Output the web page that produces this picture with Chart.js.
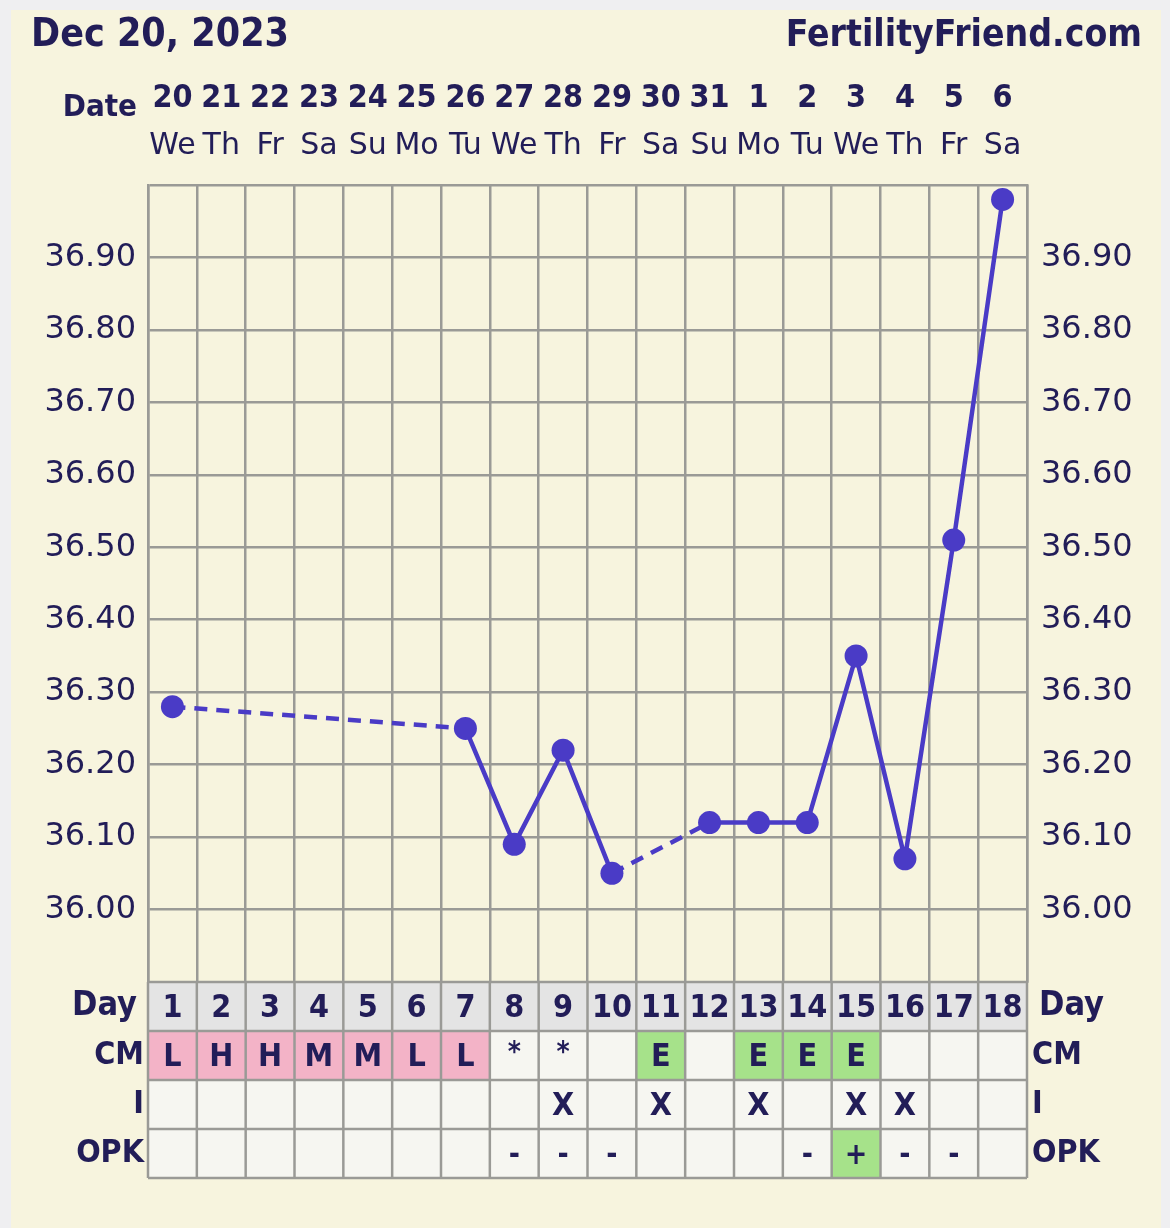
<!DOCTYPE html>
<html>
<head>
<meta charset="utf-8">
<script src="https://cdn.jsdelivr.net/npm/chart.js@4.4.0/dist/chart.umd.min.js"></script>
<style>
  html, body { margin: 0; padding: 0; background: #efeff1; }
  #wrap { width: 1170px; height: 1228px; position: relative; }
</style>
</head>
<body>
<div id="wrap"><canvas id="bbt"></canvas></div>
<script>
// chart data
const cycleDays = ['1','2','3','4','5','6','7','8','9','10','11','12','13','14','15','16','17','18'];
const dates = ['20','21','22','23','24','25','26','27','28','29','30','31','1','2','3','4','5','6'];
const weekdays = ['We','Th','Fr','Sa','Su','Mo','Tu','We','Th','Fr','Sa','Su','Mo','Tu','We','Th','Fr','Sa'];
const temps = [36.28, null, null, null, null, null, 36.25, 36.09, 36.22, 36.05, null, 36.12, 36.12, 36.12, 36.35, 36.07, 36.51, 36.98];
const cmRow = ['L','H','H','M','M','L','L','*','*','','E','','E','E','E','','',''];
const iRow = ['','','','','','','','','X','','X','','X','','X','X','',''];
const opkRow = ['','','','','','','','-','-','-','','','','-','+','-','-',''];
const tableRows = ['Day', 'CM', 'I', 'OPK'];

const INK = '#221d58';
const GRID = '#9a9a96';
const LINE = '#4a3bc6';
const COND = '"DejaVu Sans Condensed", "DejaVu Sans", sans-serif';
const SANS = '"DejaVu Sans", Verdana, sans-serif';

// background + header text
const pagePlugin = {
    id: 'page',
    beforeDraw(chart) {
        const ctx = chart.ctx;
        ctx.save();
        ctx.fillStyle = '#efeff1';
        ctx.fillRect(0, 0, chart.width, chart.height);
        ctx.fillStyle = '#f7f4de';
        ctx.fillRect(11, 10, 1150, chart.height - 10);
        ctx.fillStyle = INK;
        ctx.textBaseline = 'middle';
        ctx.textAlign = 'left';
        ctx.font = 'bold 39px ' + COND;
        ctx.fillText('Dec 20, 2023', 31, 36);
        ctx.textAlign = 'right';
        ctx.font = 'bold 37px ' + COND;
        ctx.fillText('FertilityFriend.com', 1142, 36);
        ctx.font = 'bold 31px ' + COND;
        ctx.fillText('Date', 137, 108);
        ctx.restore();
    }
};

// table of cycle day / CM / I / OPK under the chart
const tablePlugin = {
    id: 'table',
    afterDraw(chart) {
        const ctx = chart.ctx;
        const x = chart.scales.x;
        const area = chart.chartArea;
        const colW = x.getPixelForValue(1) - x.getPixelForValue(0);
        const rowH = 49;
        const top = area.bottom;
        const rows = [cycleDays, cmRow, iRow, opkRow];
        ctx.save();
        rows.forEach((vals, r) => {
            const y0 = top + r * rowH;
            vals.forEach((v, i) => {
                const x0 = x.getPixelForValue(i) - colW / 2;
                let bg = '#f6f6f1';
                if (r === 0) bg = '#e4e4e4';
                else if (r === 1 && v && 'LHM'.includes(v)) bg = '#f3b3c7';
                else if (r === 1 && v === 'E') bg = '#a6e28a';
                else if (r === 3 && v === '+') bg = '#a6e28a';
                ctx.fillStyle = bg;
                ctx.fillRect(x0, y0, colW, rowH);
                if (!v) return;
                ctx.fillStyle = INK;
                ctx.textAlign = 'center';
                ctx.textBaseline = 'middle';
                let fs = 32, dy = 2;
                if (v === '*') { fs = 28; dy = -2; }
                if (v === '-' || v === '+') { fs = 30; dy = 3; }
                ctx.font = 'bold ' + fs + 'px ' + COND;
                ctx.fillText(v, x.getPixelForValue(i), y0 + rowH / 2 + dy);
            });
        });
        // cell borders
        ctx.strokeStyle = GRID;
        ctx.lineWidth = 2.5;
        for (let r = 0; r <= rows.length; r++) {
            ctx.beginPath();
            ctx.moveTo(area.left, top + r * rowH);
            ctx.lineTo(area.right, top + r * rowH);
            ctx.stroke();
        }
        for (let i = 0; i <= cycleDays.length; i++) {
            const xx = area.left + i * colW;
            ctx.beginPath();
            ctx.moveTo(xx, top);
            ctx.lineTo(xx, top + rows.length * rowH);
            ctx.stroke();
        }
        // row labels both sides
        ctx.fillStyle = INK;
        ctx.textBaseline = 'middle';
        tableRows.forEach((lab, r) => {
            const yc = top + r * rowH + rowH / 2;
            ctx.font = (r === 0 ? 'bold 34px ' : 'bold 32px ') + COND;
            ctx.textAlign = 'right';
            ctx.fillText(lab, area.left - (r === 0 ? 11 : 4), yc);
            ctx.textAlign = 'left';
            ctx.fillText(lab, area.right + (r === 0 ? 12 : 5), yc);
        });
        ctx.restore();
    }
};

const tempTick = (value) => {
    const h = Math.round(value * 100);
    if (h % 10 !== 0 || h < 3600 || h > 3690) return '';
    return (h / 100).toFixed(2);
};

const canvas = document.getElementById('bbt');
new Chart(canvas, {
    type: 'line',
    data: {
        labels: weekdays,
        datasets: [{
            data: temps,
            borderColor: LINE,
            backgroundColor: LINE,
            borderWidth: 4.5,
            pointRadius: 11.5,
            pointHoverRadius: 11.5,
            pointBorderWidth: 0,
            spanGaps: true,
            tension: 0,
            segment: {
                // missing days are bridged with a dashed segment
                borderDash: (ctx) => (ctx.p0.skip || ctx.p1.skip) ? [13, 9] : undefined,
            },
        }]
    },
    options: {
        responsive: true,
        maintainAspectRatio: false,
        animation: false,
        layout: { padding: { bottom: 246 } },
        plugins: { legend: { display: false }, tooltip: { enabled: false } },
        scales: {
            x: {
                position: 'top',
                weight: 0,
                offset: true,
                grid: { color: GRID, lineWidth: 2.5, offset: true, drawTicks: false },
                border: { display: false },
                ticks: { color: INK, font: { family: SANS, size: 30 }, padding: 21, autoSkip: false, maxRotation: 0 },
                afterFit: (s) => { s.height = 63; },
            },
            xDate: {
                type: 'category',
                labels: dates,
                position: 'top',
                weight: 1,
                offset: true,
                grid: { display: false },
                border: { display: false },
                ticks: { color: INK, font: { family: COND, size: 32, weight: 'bold' }, padding: -4, autoSkip: false, maxRotation: 0 },
                afterFit: (s) => { s.height = 122; },
            },
            y: {
                position: 'left',
                min: 35.9,
                max: 37.0,
                grid: { color: GRID, lineWidth: 2.5, drawTicks: false },
                border: { color: GRID, width: 2.5 },
                ticks: { stepSize: 0.05, color: INK, font: { family: SANS, size: 32 }, padding: 12, callback: tempTick },
                afterFit: (s) => { s.width = 148; },
            },
            yRight: {
                position: 'right',
                min: 35.9,
                max: 37.0,
                grid: { display: false },
                border: { color: GRID, width: 2.5 },
                ticks: { stepSize: 0.05, color: INK, font: { family: SANS, size: 32 }, padding: 6, callback: tempTick },
                afterFit: (s) => { s.width = 143; },
            }
        }
    },
    plugins: [pagePlugin, tablePlugin]
});
</script>
</body>
</html>
